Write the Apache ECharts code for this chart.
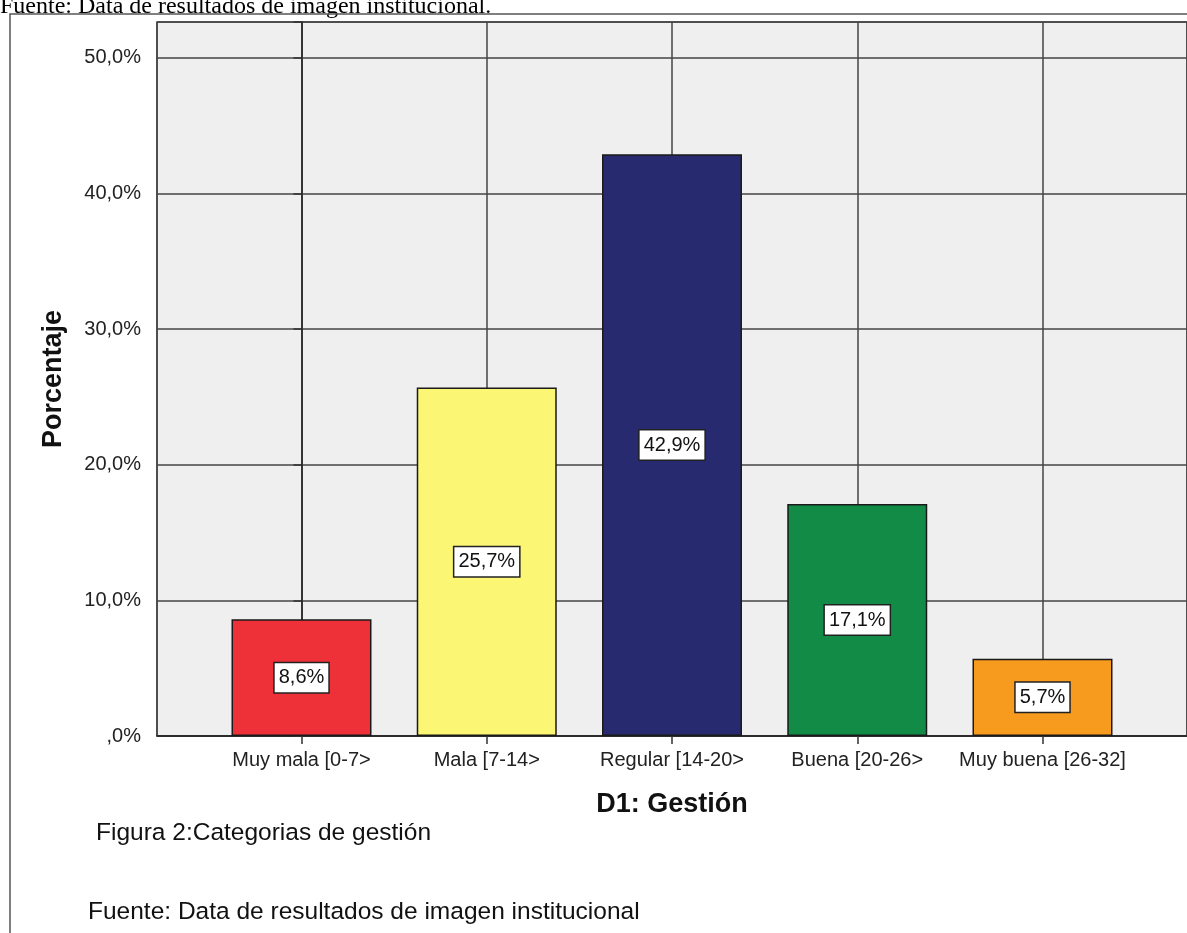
<!DOCTYPE html>
<html>
<head>
<meta charset="utf-8">
<script src="https://cdn.jsdelivr.net/npm/echarts@6/dist/echarts.min.js"></script>
<style>
  html, body { margin: 0; padding: 0; background: #fff; }
  #chart { width: 1187px; height: 933px; }
</style>
</head>
<body>
<div id="chart"></div>
<script>
const categories = ['Muy mala [0-7>', 'Mala [7-14>', 'Regular [14-20>', 'Buena [20-26>', 'Muy buena [26-32]']
const percentages = [8.6, 25.7, 42.9, 17.1, 5.7]
const barColors = ['#ee3038', '#fbf673', '#272a6e', '#128b47', '#f79b1f']
const yTicks = [0, 10, 20, 30, 40, 50]

const sansFont = '"Liberation Sans", Arial, sans-serif'

function pct(v) {
  if (v === 0) return ',0%'
  return v.toFixed(1).replace('.', ',') + '%'
}

const chart = echarts.init(document.getElementById('chart'))

chart.setOption({
  animation: false,
  backgroundColor: '#fff',
  grid: {
    left: 157, top: 22, right: -4, bottom: 197,
    show: true,
    backgroundColor: '#efefef',
    borderColor: '#444',
    borderWidth: 1.5,
  },
  xAxis: {
    type: 'value',
    min: -0.78,
    max: 4.78,
    name: 'D1: Gestión',
    nameLocation: 'middle',
    nameGap: 55,
    nameTextStyle: { fontFamily: sansFont, fontWeight: 'bold', fontSize: 27, color: '#111' },
    axisLine: { show: true, lineStyle: { color: '#222', width: 1.5 } },
    axisTick: { show: true, length: 8, lineStyle: { color: '#333', width: 1.5 } },
    axisLabel: {
      margin: 14,
      fontFamily: sansFont,
      fontSize: 20,
      color: '#222',
      showMinLabel: false,
      showMaxLabel: false,
      formatter: (v) => (Number.isInteger(v) && categories[v] ? categories[v] : ''),
    },
    splitLine: { show: true, lineStyle: { color: '#444', width: 1.5 } },
  },
  yAxis: {
    type: 'value',
    min: 0,
    max: 52.65,
    interval: 10,
    name: 'Porcentaje',
    nameLocation: 'middle',
    nameGap: 90,
    nameTextStyle: { fontFamily: sansFont, fontWeight: 'bold', fontSize: 27, color: '#111' },
    axisLine: { show: true, lineStyle: { color: '#222', width: 1.5 } },
    axisTick: { show: true, length: 8, lineStyle: { color: '#333', width: 1.5 } },
    axisLabel: {
      margin: 16,
      fontFamily: sansFont,
      fontSize: 20,
      color: '#222',
      formatter: (v) => (yTicks.includes(v) ? pct(v) : ''),
    },
    splitLine: { show: true, lineStyle: { color: '#444', width: 1.5 } },
  },
  series: [
    {
      type: 'bar',
      barWidth: 140,
      data: percentages.map((v, i) => ({
        value: [i, v],
        itemStyle: { color: barColors[i], borderColor: '#1a1a1a', borderWidth: 1.5 },
      })),
      label: {
        show: true,
        position: 'inside',
        formatter: (p) => pct(p.data.value[1]),
        fontFamily: sansFont,
        fontSize: 20,
        color: '#111',
        backgroundColor: '#fff',
        borderColor: '#222',
        borderWidth: 1.5,
        padding: [5, 4, 4, 4],
      },
    },
  ],
  graphic: [
    {
      type: 'rect',
      shape: { x: 10, y: 14, width: 1300, height: 1000 },
      style: { fill: 'none', stroke: '#555', lineWidth: 1.5 },
      z: 100,
    },
    {
      type: 'text',
      x: 0, y: 7,
      style: {
        text: 'Fuente: Data de resultados de imagen institucional.',
        font: '24px "Liberation Serif", "Times New Roman", serif',
        fill: '#000',
        verticalAlign: 'middle',
      },
    },
    {
      type: 'text',
      x: 96, y: 833,
      style: {
        text: 'Figura 2:Categorias de gestión',
        font: '24.5px ' + sansFont,
        fill: '#111',
        verticalAlign: 'middle',
      },
    },
    {
      type: 'text',
      x: 88, y: 912,
      style: {
        text: 'Fuente: Data de resultados de imagen institucional',
        font: '24.5px ' + sansFont,
        fill: '#111',
        verticalAlign: 'middle',
      },
    },
  ],
})
</script>
</body>
</html>
